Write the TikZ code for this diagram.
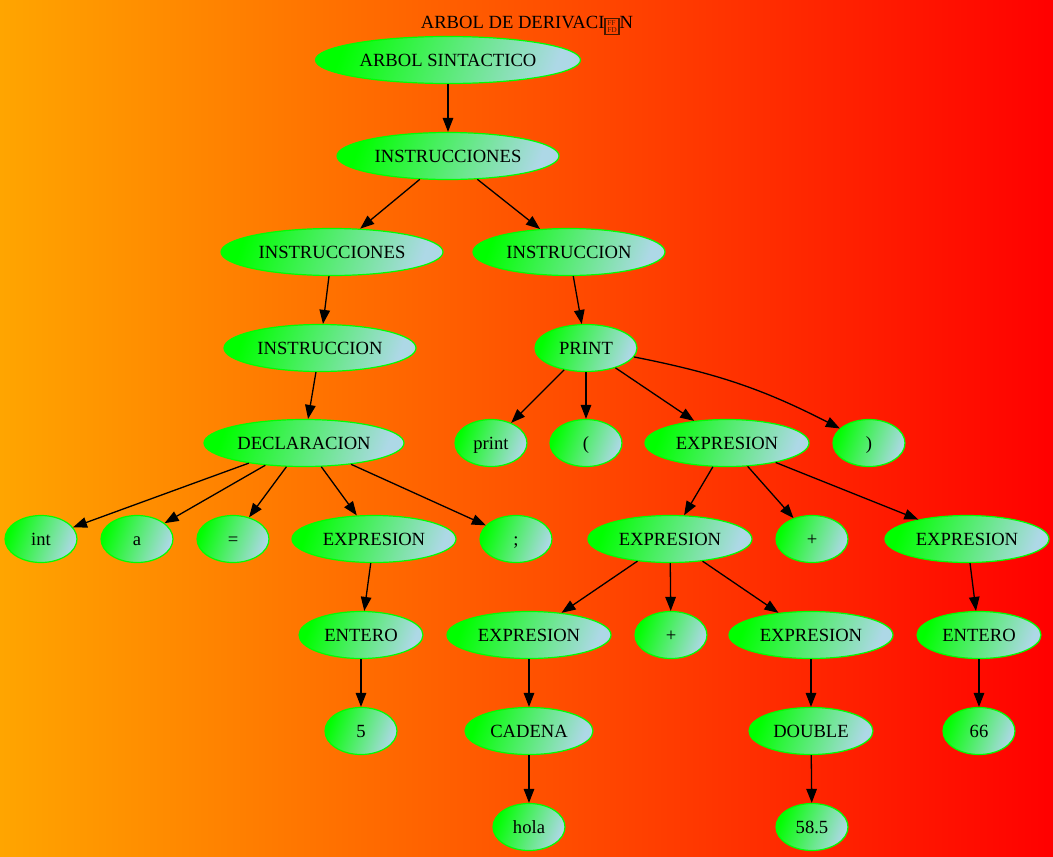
\documentclass[tikz,border=0pt]{standalone}
\usepackage{fontspec}
\setmainfont{Liberation Serif}
\usetikzlibrary{shapes.geometric,arrows.meta}

\definecolor{bgorange}{RGB}{255,165,0}
\definecolor{bgred}{RGB}{255,0,0}
\definecolor{ngreen}{RGB}{0,255,0}
\definecolor{nblue}{RGB}{173,216,230}
\definecolor{glyphbox}{RGB}{70,25,0}

% hex box drawn where the font has no glyph (U+FFFD)
\newcommand\hexglyphbox{\raisebox{-4pt}{{\color{glyphbox}\fboxsep=1.6pt\fboxrule=1.2pt%
  \fbox{\fontsize{7.5}{7.5}\selectfont\vbox{\offinterlineskip\hbox{FF}\kern1.6pt\hbox{FD}}}}}}

\begin{document}
\begin{tikzpicture}[x=1pt,y=-1pt,
  tn/.style={ellipse, draw=ngreen, line width=1.2pt,
    top color=ngreen, bottom color=nblue, shading angle=70,
    minimum height=47pt, inner sep=0pt, text height=12.3pt, text depth=0pt,
    font=\fontsize{18.6}{22}\selectfont},
  sm/.style={tn, minimum width=72pt},
  edge/.style={-{Triangle[length=14pt,width=10.5pt]}, line width=1.3pt}]

% background
\shade[left color=bgorange, right color=bgred] (0,0) rectangle (1053,857);
\useasboundingbox (0,0) rectangle (1053,857);

% title
\node[anchor=base, inner sep=0pt, font=\fontsize{18.6}{22}\selectfont] (title) at (527,28.5)
  {ARBOL DE DERIVACI\hexglyphbox N};

% nodes
\node[tn, minimum width=265pt] (root)  at (448,60)  {ARBOL SINTACTICO};
\node[tn, minimum width=222pt] (ins1)  at (448,156) {INSTRUCCIONES};
\node[tn, minimum width=222pt] (ins2)  at (332,252) {INSTRUCCIONES};
\node[tn, minimum width=192pt] (inst1) at (569,252) {INSTRUCCION};
\node[tn, minimum width=192pt] (inst2) at (320,348) {INSTRUCCION};
\node[tn, minimum width=102pt] (prt)   at (586,348) {PRINT};
\node[tn, minimum width=200pt] (decl)  at (304,443) {DECLARACION};
\node[sm] (kprint) at (491,443) {print};
\node[sm] (lpar)   at (586,443) {(};
\node[tn, minimum width=164pt] (exp1) at (727,443) {EXPRESION};
\node[sm] (rpar)   at (869,443) {)};
\node[sm] (kint)   at (41,539)  {int};
\node[sm] (va)     at (137,539) {a};
\node[sm] (eq)     at (233,539) {=};
\node[tn, minimum width=164pt] (exp2) at (374,539) {EXPRESION};
\node[sm] (semi)   at (516,539) {;};
\node[tn, minimum width=164pt] (exp3) at (670,539) {EXPRESION};
\node[sm] (plus1)  at (812,539) {+};
\node[tn, minimum width=164pt] (exp4) at (967,539) {EXPRESION};
\node[tn, minimum width=124pt] (ent1) at (361,635) {ENTERO};
\node[tn, minimum width=164pt] (exp5) at (529,635) {EXPRESION};
\node[sm] (plus2)  at (671,635) {+};
\node[tn, minimum width=164pt] (exp6) at (811,635) {EXPRESION};
\node[tn, minimum width=124pt] (ent2) at (979,635) {ENTERO};
\node[sm] (five)   at (361,731) {5};
\node[tn, minimum width=128pt] (cad)  at (529,731) {CADENA};
\node[tn, minimum width=124pt] (dbl)  at (811,731) {DOUBLE};
\node[sm] (sixsix) at (979,731) {66};
\node[sm] (hola)   at (529,827) {hola};
\node[sm] (num)    at (812,827) {58.5};

% edges
\draw[edge] (root) -- (ins1);
\draw[edge] (ins1) -- (ins2);
\draw[edge] (ins1) -- (inst1);
\draw[edge] (ins2) -- (inst2);
\draw[edge] (inst1) -- (prt);
\draw[edge] (inst2) -- (decl);
\draw[edge] (prt) -- (kprint);
\draw[edge] (prt) -- (lpar);
\draw[edge] (prt) -- (exp1);
\draw[edge] (prt) to[bend left=8] (rpar);
\draw[edge] (decl) -- (kint);
\draw[edge] (decl) -- (va);
\draw[edge] (decl) -- (eq);
\draw[edge] (decl) -- (exp2);
\draw[edge] (decl) -- (semi);
\draw[edge] (exp1) -- (exp3);
\draw[edge] (exp1) -- (plus1);
\draw[edge] (exp1) -- (exp4);
\draw[edge] (exp2) -- (ent1);
\draw[edge] (exp3) -- (exp5);
\draw[edge] (exp3) -- (plus2);
\draw[edge] (exp3) -- (exp6);
\draw[edge] (exp4) -- (ent2);
\draw[edge] (ent1) -- (five);
\draw[edge] (exp5) -- (cad);
\draw[edge] (exp6) -- (dbl);
\draw[edge] (ent2) -- (sixsix);
\draw[edge] (cad) -- (hola);
\draw[edge] (dbl) -- (num);
\end{tikzpicture}
\end{document}
